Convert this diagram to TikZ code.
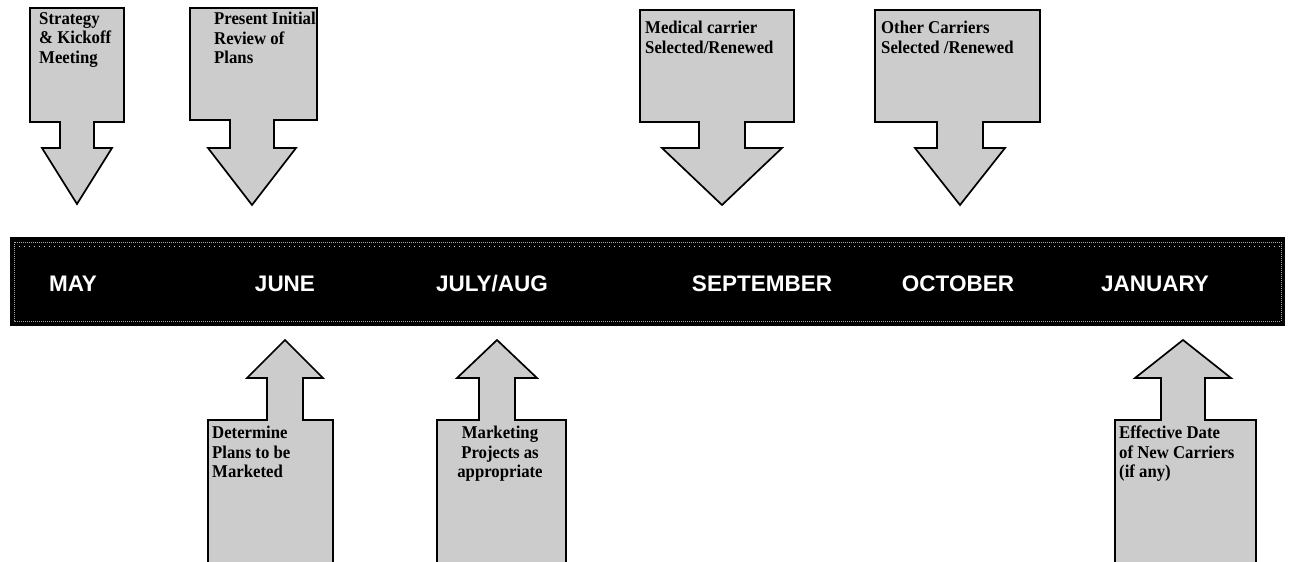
\documentclass[tikz,border=0pt]{standalone}
\usepackage{fontspec}
\setmainfont{Liberation Serif}
\newfontfamily\cfont[FakeStretch=0.93]{Liberation Serif}
\newfontfamily\armo{Liberation Sans}
\tikzset{
  x=1pt, y=-1pt,
  callout/.style={draw=black, line width=1.7pt, fill=gray!40, line join=miter},
  ctext/.style={font=\cfont\fontsize{18}{19.5}\selectfont\bfseries, align=left, inner sep=0pt, anchor=north west},
  ctextc/.style={font=\cfont\fontsize{18}{19.5}\selectfont\bfseries, align=center, inner sep=0pt, anchor=north},
  month/.style={font=\armo\bfseries\fontsize{22.5}{22.5}\selectfont, text=white, inner sep=0pt},
  band/.style={fill=black},
}
% down callout: #1 xl, #2 xr, #3 yt, #4 yb, #5 cx, #6 shaft half width, #7 head base, #8 head half width, #9 tip y
\newcommand{\downcall}[9]{%
  \draw[callout] (#1,#3) -- (#2,#3) -- (#2,#4) -- (#5+#6,#4) -- (#5+#6,#7) -- (#5+#8,#7) -- (#5,#9)
    -- (#5-#8,#7) -- (#5-#6,#7) -- (#5-#6,#4) -- (#1,#4) -- cycle;}
% up callout: box open at bottom
\newcommand{\upcall}[9]{%
  \fill[gray!40] (#1,#3) -- (#5-#6,#3) -- (#5-#6,#7) -- (#5-#8,#7) -- (#5,#9) -- (#5+#8,#7) -- (#5+#6,#7) -- (#5+#6,#3) -- (#2,#3) -- (#2,#4) -- (#1,#4) -- cycle;
  \draw[callout, fill=none] (#1,#4) -- (#1,#3) -- (#5-#6,#3) -- (#5-#6,#7) -- (#5-#8,#7) -- (#5,#9) -- (#5+#8,#7) -- (#5+#6,#7) -- (#5+#6,#3) -- (#2,#3) -- (#2,#4);}
\begin{document}
\begin{tikzpicture}
\useasboundingbox (0,0) rectangle (1291,562);
\clip (0,0) rectangle (1291,562);

% top callouts
\downcall{30}{124}{8}{122}{77}{17}{148}{35}{204}
\downcall{190}{317}{8}{120}{252}{22}{148}{44}{205}
\downcall{640}{794}{10}{122}{722}{23}{148}{60}{205}
\downcall{875}{1040}{10}{122}{960}{23}{148}{45}{205}
\node[ctext] (t1) at (39,12) {Strategy\\\& Kickoff\\Meeting};
\node[ctext] (t2) at (214,12) {Present Initial\\Review of\\Plans};
\node[ctext] (t3) at (645,21) {Medical carrier\\Selected/Renewed};
\node[ctext] (t4) at (881,21) {Other Carriers\\Selected /Renewed};

% band
\fill[band] (10,237) rectangle (1285,326);
\draw[gray!70, densely dotted, line width=1pt] (14,242) rectangle (1281,321);
\draw[gray!45, loosely dotted, line width=1pt] (14,246) -- (1281,246);
\node[month] (may) at (73,284) {MAY};
\node[month] (jun) at (285,284) {JUNE};
\node[month] (jul) at (492,284) {JULY/AUG};
\node[month] (sep) at (762,284) {SEPTEMBER};
\node[month] (oct) at (958,284) {OCTOBER};
\node[month] (jan) at (1155,284) {JANUARY};

% bottom callouts
\upcall{208}{333}{420}{570}{285}{18}{378}{38}{340}
\upcall{437}{566}{420}{570}{497}{18}{378}{40}{340}
\upcall{1115}{1256}{420}{570}{1183}{22}{378}{48}{340}
\node[ctext] (b1) at (212,426) {Determine\\Plans to be\\Marketed};
\node[ctextc] (b2) at (500,426) {Marketing\\Projects as\\appropriate};
\node[ctext] (b3) at (1119,426) {Effective Date\\of New Carriers\\(if any)};
\end{tikzpicture}
\end{document}
